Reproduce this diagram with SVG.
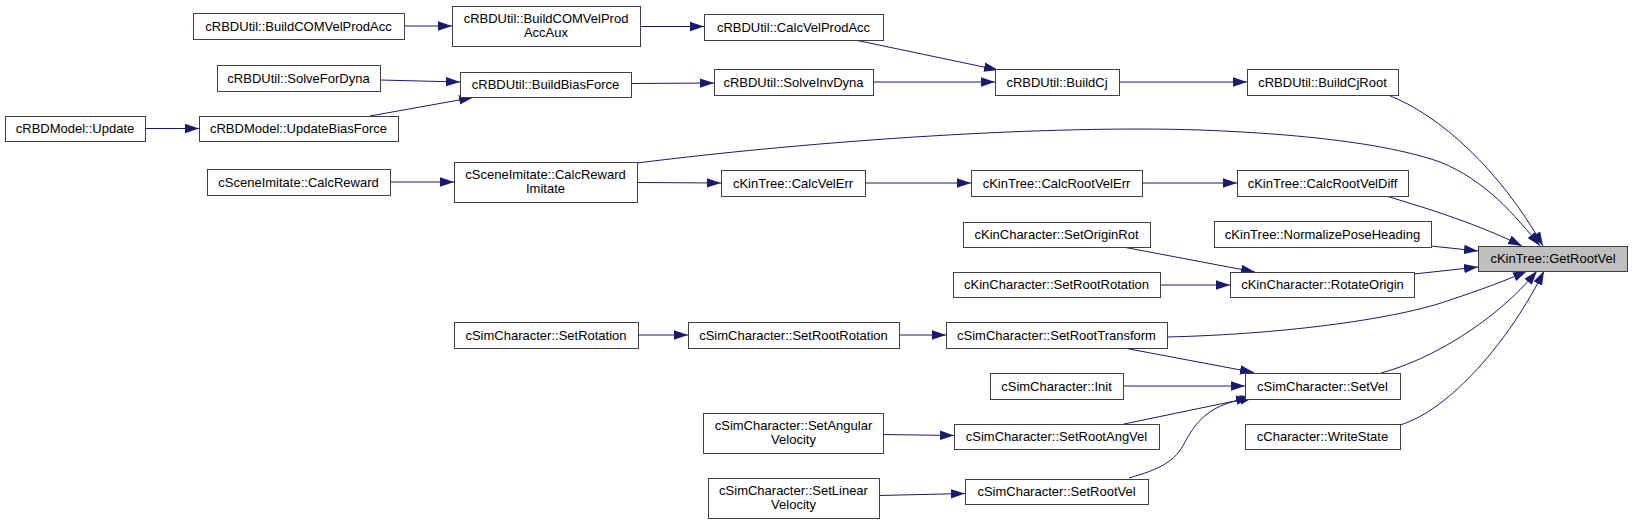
<svg xmlns="http://www.w3.org/2000/svg" width="1632" height="524" viewBox="0 0 1632 524">
<style>
.node rect{fill:#ffffff;stroke:#404040;stroke-width:1}
.node.hl rect{fill:#bfbfbf}
.node text{font-family:"Liberation Sans",Arial,sans-serif;font-size:13px;text-anchor:middle;fill:#000000}
.edges path{fill:none;stroke:#191970;stroke-width:1;marker-end:url(#arrow)}
</style>
<defs>
<marker id="arrow" markerUnits="userSpaceOnUse" markerWidth="14" markerHeight="10" viewBox="0 0 14 10" refX="14" refY="5" orient="auto">
<path d="M0,0.3 L14,5 L0,9.7 z" fill="#191970"/>
</marker>
</defs>
<rect width="1632" height="524" fill="#ffffff"/>
<g id="edges" class="edges">
<path d="M404,26 L452,26"/>
<path d="M640,26.5 L704,26.5"/>
<path d="M855,40 L998,70"/>
<path d="M380,80 L460,82"/>
<path d="M370,116 L473,97.5"/>
<path d="M145,128.5 L199,128.5"/>
<path d="M631,83.5 L714,83"/>
<path d="M873,82 L995,82"/>
<path d="M1119,82 L1247,82"/>
<path d="M1388,95 C1440,115 1500,170 1543,246"/>
<path d="M637,163 C820,140 1050,125 1200,130 C1330,135 1400,148 1440,162 C1485,180 1515,215 1540,246"/>
<path d="M390,182 L454,182"/>
<path d="M637,182.5 L721,183"/>
<path d="M865,183 L971,183"/>
<path d="M1142,183 L1237,183"/>
<path d="M1386,196 C1430,209 1480,225 1522,246"/>
<path d="M1431,246 L1478,251"/>
<path d="M1414,274 L1478,267"/>
<path d="M1123,247 L1255,272"/>
<path d="M1160,285 L1230,285"/>
<path d="M638,335 L688,335"/>
<path d="M899,335 L946,335"/>
<path d="M1167,337 C1290,334 1400,318 1450,300 C1480,290 1505,281 1527,271"/>
<path d="M1124,348 L1254,372.5"/>
<path d="M1123,386 L1245,386"/>
<path d="M1381,373 C1430,360 1495,322 1537,271"/>
<path d="M1124,424 L1254,397"/>
<path d="M1129,478 C1160,469 1175,462 1185,442 C1198,418 1212,404 1250,398"/>
<path d="M1400,425 C1450,410 1510,340 1544,271"/>
<path d="M883,434.5 L954,435.5"/>
<path d="M879,495.5 L965,493.5"/>
</g>
<g id="n1" class="node"><rect x="193.5" y="13.5" width="211" height="26"/><text x="298.5" y="30.5">cRBDUtil::BuildCOMVelProdAcc</text></g>
<g id="n2" class="node"><rect x="452.5" y="6.5" width="188" height="40"/><text x="546" y="22.5">cRBDUtil::BuildCOMVelProd</text><text x="546" y="37">AccAux</text></g>
<g id="n3" class="node"><rect x="704.5" y="14.5" width="179" height="26"/><text x="793.5" y="31.5">cRBDUtil::CalcVelProdAcc</text></g>
<g id="n4" class="node"><rect x="217.5" y="65.5" width="163" height="26"/><text x="298.5" y="82.5">cRBDUtil::SolveForDyna</text></g>
<g id="n5" class="node"><rect x="460.5" y="72.5" width="171" height="25"/><text x="545.5" y="89">cRBDUtil::BuildBiasForce</text></g>
<g id="n6" class="node"><rect x="714.5" y="69.5" width="159" height="26"/><text x="793.5" y="86.5">cRBDUtil::SolveInvDyna</text></g>
<g id="n7" class="node"><rect x="995.5" y="69.5" width="124" height="26"/><text x="1057" y="86.5">cRBDUtil::BuildCj</text></g>
<g id="n8" class="node"><rect x="1247.5" y="69.5" width="151" height="26"/><text x="1322.5" y="86.5">cRBDUtil::BuildCjRoot</text></g>
<g id="n9" class="node"><rect x="5.5" y="116.5" width="140" height="25"/><text x="75" y="133">cRBDModel::Update</text></g>
<g id="n10" class="node"><rect x="199.5" y="116.5" width="199" height="25"/><text x="298.5" y="133">cRBDModel::UpdateBiasForce</text></g>
<g id="n11" class="node"><rect x="207.5" y="169.5" width="183" height="26"/><text x="298.5" y="186.5">cSceneImitate::CalcReward</text></g>
<g id="n12" class="node"><rect x="454.5" y="162.5" width="183" height="40"/><text x="545.5" y="178.5">cSceneImitate::CalcReward</text><text x="545.5" y="193">Imitate</text></g>
<g id="n13" class="node"><rect x="721.5" y="170.5" width="144" height="26"/><text x="793" y="187.5">cKinTree::CalcVelErr</text></g>
<g id="n14" class="node"><rect x="971.5" y="170.5" width="171" height="26"/><text x="1056.5" y="187.5">cKinTree::CalcRootVelErr</text></g>
<g id="n15" class="node"><rect x="1237.5" y="170.5" width="171" height="26"/><text x="1322.5" y="187.5">cKinTree::CalcRootVelDiff</text></g>
<g id="n16" class="node"><rect x="963.5" y="222.5" width="187" height="25"/><text x="1056.5" y="239">cKinCharacter::SetOriginRot</text></g>
<g id="n17" class="node"><rect x="1214.5" y="221.5" width="217" height="26"/><text x="1322.5" y="238.5">cKinTree::NormalizePoseHeading</text></g>
<g id="n18" class="node hl"><rect x="1478.5" y="246.5" width="149" height="25"/><text x="1553" y="263">cKinTree::GetRootVel</text></g>
<g id="n19" class="node"><rect x="953.5" y="272.5" width="207" height="25"/><text x="1056.5" y="289">cKinCharacter::SetRootRotation</text></g>
<g id="n20" class="node"><rect x="1230.5" y="272.5" width="184" height="25"/><text x="1322.5" y="289">cKinCharacter::RotateOrigin</text></g>
<g id="n21" class="node"><rect x="454.5" y="322.5" width="184" height="26"/><text x="546" y="339.5">cSimCharacter::SetRotation</text></g>
<g id="n22" class="node"><rect x="688.5" y="322.5" width="211" height="26"/><text x="793.5" y="339.5">cSimCharacter::SetRootRotation</text></g>
<g id="n23" class="node"><rect x="946.5" y="322.5" width="221" height="26"/><text x="1056.5" y="339.5">cSimCharacter::SetRootTransform</text></g>
<g id="n24" class="node"><rect x="990.5" y="373.5" width="133" height="26"/><text x="1056.5" y="390.5">cSimCharacter::Init</text></g>
<g id="n25" class="node"><rect x="1245.5" y="373.5" width="155" height="26"/><text x="1322.5" y="390.5">cSimCharacter::SetVel</text></g>
<g id="n26" class="node"><rect x="703.5" y="413.5" width="180" height="40"/><text x="793.5" y="429.5">cSimCharacter::SetAngular</text><text x="793.5" y="444">Velocity</text></g>
<g id="n27" class="node"><rect x="954.5" y="424.5" width="205" height="25"/><text x="1056.5" y="441">cSimCharacter::SetRootAngVel</text></g>
<g id="n28" class="node"><rect x="1245.5" y="424.5" width="155" height="25"/><text x="1322.5" y="441">cCharacter::WriteState</text></g>
<g id="n29" class="node"><rect x="708.5" y="478.5" width="171" height="40"/><text x="793.5" y="494.5">cSimCharacter::SetLinear</text><text x="793.5" y="509">Velocity</text></g>
<g id="n30" class="node"><rect x="965.5" y="479.5" width="183" height="25"/><text x="1056.5" y="496">cSimCharacter::SetRootVel</text></g>
</svg>
